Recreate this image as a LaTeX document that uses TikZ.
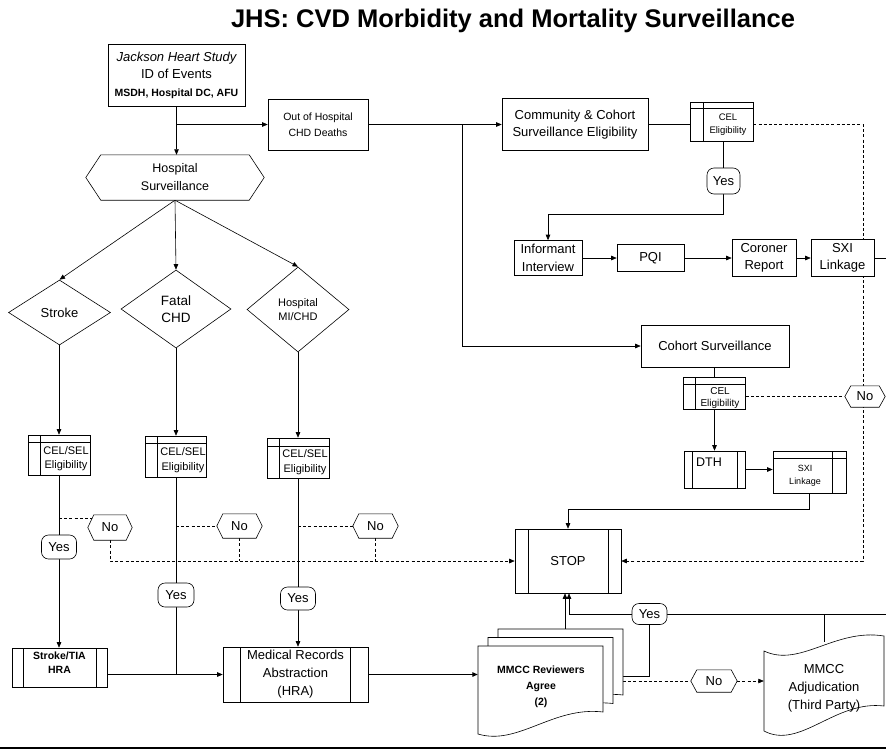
\documentclass[tikz,border=0pt]{standalone}
\usepackage{fontspec}
\setmainfont{Liberation Sans}
\usetikzlibrary{shapes.geometric,arrows.meta,calc}
\pgfdeclarelayer{conn}
\pgfdeclarelayer{shp}
\pgfsetlayers{conn,shp,main}
\newcommand\hexshape[2]{\draw[line width=0.6pt,fill=white] (#1.west) -- ([xshift=#2]#1.north west) -- ([xshift=-#2]#1.north east) -- (#1.east) -- ([xshift=-#2]#1.south east) -- ([xshift=#2]#1.south west) -- cycle;}
\newcommand\docshape[4]{\draw[line width=0.6pt,fill=white] (#1,#2) -- (#3,#2) -- ({#3},{#4-22}) .. controls ({#3-50},{#4-28}) and ({#1+40},{#4+12}) .. (#1,#4) -- cycle;}
\tikzset{
  ln/.style={line width=0.6pt},
  arr/.style={ln,-{Triangle[length=5.5pt,width=4.5pt]}},
  dsh/.style={ln,dash pattern=on 3pt off 2.2pt},
  darr/.style={dsh,-{Triangle[length=5.5pt,width=4.5pt]}},
  sz/.style 2 args={minimum width=#1pt,minimum height=#2pt},
  box/.style={draw,fill=white,line width=0.6pt,rectangle,inner sep=0pt,align=center,font=\fontsize{13}{17.5}\selectfont},
  yesn/.style={box,rounded corners=7pt},
  hid/.style={rectangle,inner sep=0pt,align=center,font=\fontsize{13}{17.5}\selectfont},
  diam/.style={draw,fill=white,line width=0.6pt,diamond,inner sep=0pt,align=center,font=\fontsize{13}{17}\selectfont},
  pproc/.style={box,path picture={
     \draw[line width=0.6pt] ([xshift=#1]path picture bounding box.north west) -- ([xshift=#1]path picture bounding box.south west);
     \draw[line width=0.6pt] ([xshift=-#1]path picture bounding box.north east) -- ([xshift=-#1]path picture bounding box.south east);}},
  storeL/.style 2 args={box,path picture={
     \draw[line width=0.6pt] ([yshift=-#1]path picture bounding box.north west) -- ([yshift=-#1]path picture bounding box.north east);
     \draw[line width=0.6pt] ([xshift=#2]path picture bounding box.north west) -- ([xshift=#2]path picture bounding box.south west);}},
  storeR/.style 2 args={box,path picture={
     \draw[line width=0.6pt] ([yshift=-#1]path picture bounding box.north west) -- ([yshift=-#1]path picture bounding box.north east);
     \draw[line width=0.6pt] ([xshift=-#2]path picture bounding box.north east) -- ([xshift=-#2]path picture bounding box.south east);}},
  lab/.style={inner sep=0pt,align=center},
}
\begin{document}
\begin{tikzpicture}[x=1pt,y=-1pt]
\useasboundingbox (0,0) rectangle (886,755);
% title
\node[font=\bfseries\fontsize{25.5}{29}\selectfont] (title) at (513,21) {JHS: CVD Morbidity and Mortality Surveillance};
% top nodes
\node[box,sz={137}{62}] (jhs) at (176.5,75) {{\itshape Jackson Heart Study}\\ID of Events\\{\bfseries\fontsize{10.5}{12}\selectfont MSDH, Hospital DC, AFU}};
\node[box,sz={100}{51},font=\fontsize{10.5}{16}\selectfont] (ooh) at (318,124.5) {Out of Hospital\\CHD Deaths};
\node[box,sz={146}{52}] (ccs) at (575,124.5) {Community \& Cohort\\Surveillance Eligibility};
\node[storeL={6pt}{13pt},sz={63}{39}] (cel1) at (721.5,121.5) {};
\node[lab,font=\fontsize{9.5}{13}\selectfont] (cel1t) at (728,125) {CEL\\Eligibility};
\node[yesn,sz={33}{26}] (yesA) at (723.5,181) {Yes};
\node[box,sz={68}{35}] (inf) at (548,258) {Informant\\Interview};
\node[box,sz={67}{27}] (pqi) at (650.5,258) {PQI};
\node[box,sz={64}{37}] (cor) at (764,258) {Coroner\\Report};
\node[box,sz={63}{37}] (sxi1) at (842.5,258) {SXI\\Linkage};
\node[box,sz={148}{42}] (coh) at (715,346) {Cohort Surveillance};
\node[storeL={7pt}{12pt},sz={62}{32}] (cel2) at (714.5,393) {};
\node[lab,font=\fontsize{10}{12.5}\selectfont] (cel2t) at (720,398) {CEL\\Eligibility};
\node[hid,sz={40}{21}] (noR) at (865,396.5) {No};
\node[pproc=8pt,sz={61}{37}] (dth) at (714.5,469.5) {};
\node[lab,font=\fontsize{12.5}{15}\selectfont] (dtht) at (709,462) {DTH};
\node[storeR={7pt}{14pt},sz={73}{42}] (sxi2) at (809.5,472) {};
\node[lab,font=\fontsize{9}{13}\selectfont] (sxi2t) at (805,476) {SXI\\Linkage};
\node[pproc=13pt,sz={106}{64}] (stop) at (568,561) {STOP};
% left nodes
\node[hid,sz={178}{45},font=\fontsize{12.5}{18}\selectfont] (hs) at (175,177.5) {Hospital\\Surveillance};
\node[diam,sz={102}{65}] (st) at (59.5,312.5) {Stroke};
\node[diam,sz={110}{78},font=\fontsize{13.5}{17}\selectfont] (fc) at (176,309) {Fatal\\CHD};
\node[diam,sz={102}{85},font=\fontsize{11}{14}\selectfont] (hm) at (298,309.5) {Hospital\\MI/CHD};
\node[storeL={7pt}{12pt},sz={62}{40}] (cs1) at (59,455) {};
\node[storeL={7pt}{12pt},sz={61}{41}] (cs2) at (176,456.5) {};
\node[storeL={8pt}{12pt},sz={62}{40}] (cs3) at (298,458) {};
\node[lab,font=\fontsize{11}{14.5}\selectfont] (cs1t) at (66,458.5) {CEL/SEL\\Eligibility};
\node[lab,font=\fontsize{11}{14.5}\selectfont] (cs2t) at (183,460) {CEL/SEL\\Eligibility};
\node[lab,font=\fontsize{11}{14.5}\selectfont] (cs3t) at (305,462) {CEL/SEL\\Eligibility};
\node[hid,sz={44}{25}] (no1) at (110,527.5) {No};
\node[hid,sz={45}{24}] (no2) at (239.5,526) {No};
\node[hid,sz={45}{24}] (no3) at (375.5,526) {No};
\node[yesn,sz={35}{24}] (yes1) at (59,547) {Yes};
\node[yesn,sz={36}{24}] (yes2) at (176,595) {Yes};
\node[yesn,sz={35}{23}] (yes3) at (298,598.5) {Yes};
\node[pproc=11pt,sz={95}{39}] (str) at (59.5,667.5) {};
\node[lab,font=\bfseries\fontsize{10.5}{14}\selectfont] (strt) at (59.5,663) {Stroke/TIA\\HRA};
\node[pproc=17.5pt,sz={145}{55},font=\fontsize{13}{18}\selectfont] (mra) at (295.5,674.5) {Medical Records\\Abstraction\\(HRA)};
% bottom right
\node[hid,sz={125}{88}] (mmcc) at (540.5,690) {};
\node[hid,sz={125}{88}] (mmccb) at (560.5,673) {};
\node[lab,font=\bfseries\fontsize{10.5}{16}\selectfont] (mmcct) at (541,687) {MMCC Reviewers\\Agree\\(2)};
\node[yesn,sz={35}{21}] (yesB) at (649.5,614) {Yes};
\node[hid,sz={46}{22}] (noB) at (714,681) {No};
\node[hid,sz={120}{106},font=\fontsize{13}{18}\selectfont] (adj) at (824,688) {MMCC\\Adjudication\\(Third Party)};
% helper coordinates
\coordinate (edge) at (886,0);
\coordinate (dr) at (863,124.5);
\coordinate (br) at (462,124.5);
\coordinate (rvY) at (623,676);
\coordinate (rvN) at (623,681);
\coordinate (j1) at ([yshift=19pt]stop.north);
\coordinate (j2) at ($(yesA.south)+(0,20)$);
\coordinate (stopL) at ([xshift=-3pt]stop.south);
\coordinate (stopR) at ([xshift=1pt]stop.south);
\coordinate (nd1) at ($(no1.west)+(4.5,-9.4)$);
% shapes
\begin{pgfonlayer}{shp}
\hexshape{hs}{15pt}
\hexshape{no1}{6pt}
\hexshape{no2}{6pt}
\hexshape{no3}{6pt}
\hexshape{noR}{6pt}
\hexshape{noB}{6pt}
\docshape{498}{629}{623}{717}
\docshape{488}{637.5}{613}{725.5}
\docshape{478}{646}{603}{734}
\draw[ln,fill=white] (764,651) .. controls (800,668) and (835,628) .. (884,636) -- (884,706) .. controls (835,700) and (800,750) .. (764,731) -- cycle;
\end{pgfonlayer}
% connectors
\begin{pgfonlayer}{conn}
\fill[white] (0,0) rectangle (886,755);
\draw[arr] (jhs.south) -- (jhs.south |- hs.north);
\draw[arr] (jhs.south |- ooh.west) -- (ooh.west);
\draw[arr] (ooh.east) -- (ccs.west);
\draw[arr] (br) |- (coh.west);
\draw[ln] (ccs.east) -- (cel1.west |- ccs.east);
\draw[darr] (cel1.east |- ccs.east) -- (dr) -- (dr |- stop.east) -- (stop.east);
\draw[ln] (yesA.north |- cel1.south) -- (yesA.north);
\draw[arr] (yesA.south) -- (j2) -| (inf.north);
\draw[arr] (inf.east) -- (pqi.west);
\draw[arr] (pqi.east) -- (cor.west);
\draw[arr] (cor.east) -- (sxi1.west);
\draw[ln] (sxi1.east) -- (sxi1.east -| edge);
\draw[ln] (cel2.north |- coh.south) -- (cel2.north);
\draw[dsh] (cel2.east |- noR.west) -- (noR.west);
\draw[arr] (cel2.south) -- (dth.north);
\draw[arr] (dth.east) -- (dth.east -| sxi2.west);
\draw[arr] (sxi2.south) |- (j1) -- (stop.north);
\draw[arr] (hs.south) -- (st.north);
\draw[arr] (hs.south) -- (fc.north);
\draw[arr] (hs.south) -- (hm.north);
\draw[arr] (cs1.north |- st.south) -- (cs1.north);
\draw[arr] (fc.south) -- (cs2.north);
\draw[arr] (hm.south) -- (cs3.north);
\draw[ln] (cs1.south) -- (yes1.north);
\draw[arr] (yes1.south) -- (yes1.south |- str.north);
\draw[dsh] (cs1.south |- nd1) -- (nd1);
\draw[ln] (cs2.south) -- (yes2.north);
\draw[ln] (yes2.south) -- (yes2.south |- mra.west);
\draw[dsh] (cs2.south |- no2.west) -- (no2.west);
\draw[ln] (cs3.south) -- (yes3.north);
\draw[arr] (yes3.south) -- (yes3.south |- mra.north);
\draw[dsh] (cs3.south |- no3.west) -- (no3.west);
\draw[darr] (no1.south) |- (stop.west);
\draw[dsh] (no2.south) -- (no2.south |- stop.west);
\draw[dsh] (no3.south) -- (no3.south |- stop.west);
\draw[arr] (str.east |- mra.west) -- (mra.west);
\draw[arr,line width=1.1pt] (mra.east) -- (mra.east -| mmcc.west);
\draw[arr] (stopL |- mmccb.north) -- (stopL);
\draw[arr] (yesB.west) -| (stopR);
\draw[ln] (rvY) -| (yesB.south);
\draw[ln] (yesB.east) -- (yesB.east -| edge);
\draw[ln] (adj.north |- yesB.east) -- ([yshift=-7pt]adj.north);
\draw[dsh] (rvN) -- (noB.west);
\draw[darr] (noB.east) -- (noB.east -| adj.west);
\end{pgfonlayer}
% bottom rule
\draw[line width=1.6pt] (0,748) -- (886,748);
\end{tikzpicture}
\end{document}
